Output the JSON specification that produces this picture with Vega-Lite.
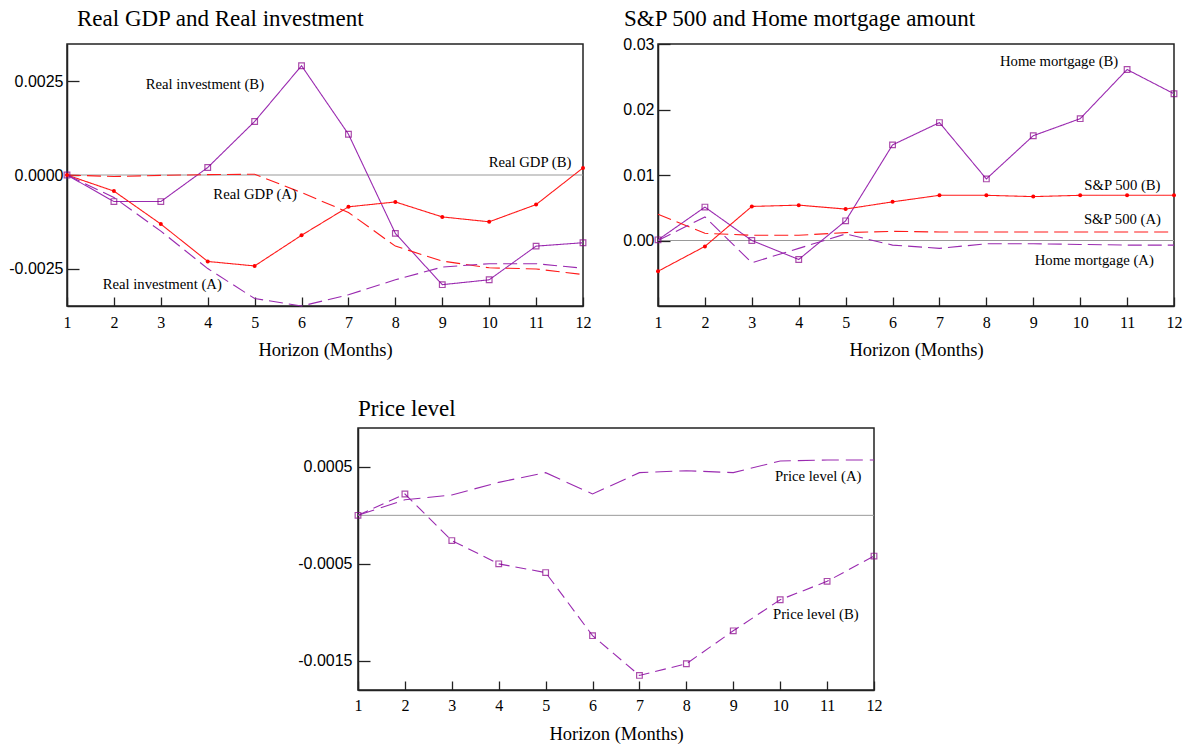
{
  "$schema": "https://vega.github.io/schema/vega-lite/v6.json",
  "padding": {"left": 7, "top": 7, "right": 4, "bottom": 2},
  "background": "white",
  "config": {
    "view": {"stroke": "#222", "strokeWidth": 1.5},
    "axis": {"grid": false, "domainColor": "#222", "domainWidth": 1.5, "tickColor": "#222", "tickWidth": 1.3, "labelColor": "#000", "titleColor": "#000"},
    "text": {"font": "Liberation Serif", "fontSize": 14.7, "color": "#000"},
    "line": {"strokeWidth": 1.1}
  },
  "resolve": {"scale": {"color": "independent", "strokeDash": "independent"}},
  "datasets": {
    "p1": [
      {"h":1,"s":"Inv B","v":0},{"h":2,"s":"Inv B","v":-0.00071},{"h":3,"s":"Inv B","v":-0.00071},{"h":4,"s":"Inv B","v":0.0002},{"h":5,"s":"Inv B","v":0.00143},{"h":6,"s":"Inv B","v":0.00292},{"h":7,"s":"Inv B","v":0.00109},{"h":8,"s":"Inv B","v":-0.00156},{"h":9,"s":"Inv B","v":-0.00293},{"h":10,"s":"Inv B","v":-0.0028},{"h":11,"s":"Inv B","v":-0.0019},{"h":12,"s":"Inv B","v":-0.00181},
      {"h":1,"s":"GDP B","v":0},{"h":2,"s":"GDP B","v":-0.00043},{"h":3,"s":"GDP B","v":-0.00131},{"h":4,"s":"GDP B","v":-0.00231},{"h":5,"s":"GDP B","v":-0.00243},{"h":6,"s":"GDP B","v":-0.00161},{"h":7,"s":"GDP B","v":-0.00085},{"h":8,"s":"GDP B","v":-0.00072},{"h":9,"s":"GDP B","v":-0.00112},{"h":10,"s":"GDP B","v":-0.00125},{"h":11,"s":"GDP B","v":-0.00079},{"h":12,"s":"GDP B","v":0.00019},
      {"h":1,"s":"GDP A","v":0},{"h":2,"s":"GDP A","v":-0.00004},{"h":3,"s":"GDP A","v":-0.00001},{"h":4,"s":"GDP A","v":0.00001},{"h":5,"s":"GDP A","v":0.00002},{"h":6,"s":"GDP A","v":-0.00047},{"h":7,"s":"GDP A","v":-0.001},{"h":8,"s":"GDP A","v":-0.0019},{"h":9,"s":"GDP A","v":-0.0023},{"h":10,"s":"GDP A","v":-0.00248},{"h":11,"s":"GDP A","v":-0.00251},{"h":12,"s":"GDP A","v":-0.00266},
      {"h":1,"s":"Inv A","v":0},{"h":2,"s":"Inv A","v":-0.0006},{"h":3,"s":"Inv A","v":-0.0015},{"h":4,"s":"Inv A","v":-0.0025},{"h":5,"s":"Inv A","v":-0.0033},{"h":6,"s":"Inv A","v":-0.0035},{"h":7,"s":"Inv A","v":-0.0032},{"h":8,"s":"Inv A","v":-0.0028},{"h":9,"s":"Inv A","v":-0.00246},{"h":10,"s":"Inv A","v":-0.00237},{"h":11,"s":"Inv A","v":-0.00237},{"h":12,"s":"Inv A","v":-0.00249}
    ],
    "p2": [
      {"h":1,"s":"HM B","v":0.0001},{"h":2,"s":"HM B","v":0.0051},{"h":3,"s":"HM B","v":0.0},{"h":4,"s":"HM B","v":-0.0029},{"h":5,"s":"HM B","v":0.003},{"h":6,"s":"HM B","v":0.0146},{"h":7,"s":"HM B","v":0.018},{"h":8,"s":"HM B","v":0.0094},{"h":9,"s":"HM B","v":0.016},{"h":10,"s":"HM B","v":0.0186},{"h":11,"s":"HM B","v":0.0261},{"h":12,"s":"HM B","v":0.0224},
      {"h":1,"s":"SP B","v":-0.0047},{"h":2,"s":"SP B","v":-0.0009},{"h":3,"s":"SP B","v":0.0052},{"h":4,"s":"SP B","v":0.0054},{"h":5,"s":"SP B","v":0.0048},{"h":6,"s":"SP B","v":0.0059},{"h":7,"s":"SP B","v":0.0069},{"h":8,"s":"SP B","v":0.0069},{"h":9,"s":"SP B","v":0.0067},{"h":10,"s":"SP B","v":0.0069},{"h":11,"s":"SP B","v":0.0069},{"h":12,"s":"SP B","v":0.0069},
      {"h":1,"s":"SP A","v":0.004},{"h":2,"s":"SP A","v":0.0011},{"h":3,"s":"SP A","v":0.0008},{"h":4,"s":"SP A","v":0.0008},{"h":5,"s":"SP A","v":0.0012},{"h":6,"s":"SP A","v":0.0014},{"h":7,"s":"SP A","v":0.0013},{"h":8,"s":"SP A","v":0.0013},{"h":9,"s":"SP A","v":0.0013},{"h":10,"s":"SP A","v":0.0013},{"h":11,"s":"SP A","v":0.0013},{"h":12,"s":"SP A","v":0.0013},
      {"h":1,"s":"HM A","v":0},{"h":2,"s":"HM A","v":0.0036},{"h":3,"s":"HM A","v":-0.0034},{"h":4,"s":"HM A","v":-0.0012},{"h":5,"s":"HM A","v":0.001},{"h":6,"s":"HM A","v":-0.0007},{"h":7,"s":"HM A","v":-0.0012},{"h":8,"s":"HM A","v":-0.0005},{"h":9,"s":"HM A","v":-0.0005},{"h":10,"s":"HM A","v":-0.0006},{"h":11,"s":"HM A","v":-0.0007},{"h":12,"s":"HM A","v":-0.0007}
    ],
    "p3": [
      {"h":1,"s":"PL B","v":0},{"h":2,"s":"PL B","v":0.00022},{"h":3,"s":"PL B","v":-0.00026},{"h":4,"s":"PL B","v":-0.0005},{"h":5,"s":"PL B","v":-0.00059},{"h":6,"s":"PL B","v":-0.00124},{"h":7,"s":"PL B","v":-0.00165},{"h":8,"s":"PL B","v":-0.00153},{"h":9,"s":"PL B","v":-0.00119},{"h":10,"s":"PL B","v":-0.00087},{"h":11,"s":"PL B","v":-0.00068},{"h":12,"s":"PL B","v":-0.00042},
      {"h":1,"s":"PL A","v":0},{"h":2,"s":"PL A","v":0.00016},{"h":3,"s":"PL A","v":0.00021},{"h":4,"s":"PL A","v":0.00034},{"h":5,"s":"PL A","v":0.00044},{"h":6,"s":"PL A","v":0.00022},{"h":7,"s":"PL A","v":0.00044},{"h":8,"s":"PL A","v":0.00046},{"h":9,"s":"PL A","v":0.00044},{"h":10,"s":"PL A","v":0.00056},{"h":11,"s":"PL A","v":0.00057},{"h":12,"s":"PL A","v":0.00057}
    ]
  },
  "vconcat": [
    {
      "resolve": {"scale": {"color": "independent", "strokeDash": "independent"}},
      "hconcat": [
        {
          "width": 516, "height": 262,
          "title": {"text": "Real GDP and Real investment", "dx": 10, "font": "Liberation Serif", "fontSize": 23, "fontWeight": "normal", "anchor": "start", "frame": "group", "color": "#000", "offset": 13},
          "encoding": {
            "x": {"field": "h", "type": "quantitative", "scale": {"domain": [1, 12], "nice": false, "zero": false}, "axis": {"values": [1,2,3,4,5,6,7,8,9,10,11,12], "format": "d", "title": "Horizon (Months)", "labelFont": "Liberation Serif", "labelFontSize": 16, "titleFont": "Liberation Serif", "titleFontSize": 18.5, "titleFontWeight": "normal", "tickSize": -9, "labelPadding": 17, "titlePadding": 10, "labelFlush": false}},
            "y": {"field": "v", "type": "quantitative", "scale": {"domain": [-0.0035, 0.0035], "nice": false}, "axis": {"values": [-0.0025, 0, 0.0025], "format": ".4f", "labelExpr": "replace(datum.label, '−', '-')", "title": null, "labelFont": "Liberation Sans", "labelFontSize": 16, "tickSize": -12, "labelPadding": 16}}
          },
          "layer": [
            {"data": {"values": [{"v": 0}]}, "mark": {"type": "rule", "color": "#999999", "strokeWidth": 1}, "encoding": {"x": null}},
            {"data": {"name": "p1"}, "mark": {"type": "line"},
             "encoding": {
               "color": {"field": "s", "type": "nominal", "scale": {"domain": ["Inv B", "GDP B", "GDP A", "Inv A"], "range": ["#9a2ab0", "#ff1a1a", "#ff1a1a", "#9a2ab0"]}, "legend": null},
               "strokeDash": {"field": "s", "type": "nominal", "scale": {"domain": ["Inv B", "GDP B", "GDP A", "Inv A"], "range": [[1, 0], [1, 0], [14, 6], [14, 6]]}, "legend": null}
             }},
            {"data": {"name": "p1"}, "transform": [{"filter": "datum.s === 'Inv B'"}], "mark": {"type": "point", "shape": "square", "filled": false, "size": 32, "stroke": "#880088", "strokeWidth": 1.2}},
            {"data": {"name": "p1"}, "transform": [{"filter": "datum.s === 'GDP B'"}], "mark": {"type": "point", "shape": "circle", "filled": true, "size": 16, "color": "#ff0000", "opacity": 1}},
            {"data": {"values": [
              {"t": "Real investment (B)", "h": 3.94, "v": 0.00241},
              {"t": "Real GDP (B)", "h": 10.87, "v": 0.00033},
              {"t": "Real GDP (A)", "h": 5.01, "v": -0.00053},
              {"t": "Real investment (A)", "h": 3.03, "v": -0.00293}
            ]}, "mark": {"type": "text", "align": "center", "baseline": "middle"}, "encoding": {"text": {"field": "t"}}}
          ]
        },
        {
          "width": 516, "height": 262,
          "title": {"text": "S&P 500 and Home mortgage amount", "dx": -34, "font": "Liberation Serif", "fontSize": 23, "fontWeight": "normal", "anchor": "start", "frame": "group", "color": "#000", "offset": 5},
          "encoding": {
            "x": {"field": "h", "type": "quantitative", "scale": {"domain": [1, 12], "nice": false, "zero": false}, "axis": {"values": [1,2,3,4,5,6,7,8,9,10,11,12], "format": "d", "title": "Horizon (Months)", "labelFont": "Liberation Serif", "labelFontSize": 16, "titleFont": "Liberation Serif", "titleFontSize": 18.5, "titleFontWeight": "normal", "tickSize": -9, "labelPadding": 17, "titlePadding": 10, "labelFlush": false}},
            "y": {"field": "v", "type": "quantitative", "scale": {"domain": [-0.01, 0.03], "nice": false}, "axis": {"values": [0, 0.01, 0.02, 0.03], "format": ".2f", "title": null, "labelFont": "Liberation Sans", "labelFontSize": 16, "tickSize": -12, "labelPadding": 16}}
          },
          "layer": [
            {"data": {"values": [{"v": 0}]}, "mark": {"type": "rule", "color": "#999999", "strokeWidth": 1}, "encoding": {"x": null}},
            {"data": {"name": "p2"}, "mark": {"type": "line"},
             "encoding": {
               "color": {"field": "s", "type": "nominal", "scale": {"domain": ["HM B", "SP B", "SP A", "HM A"], "range": ["#9a2ab0", "#ff1a1a", "#ff1a1a", "#9a2ab0"]}, "legend": null},
               "strokeDash": {"field": "s", "type": "nominal", "scale": {"domain": ["HM B", "SP B", "SP A", "HM A"], "range": [[1, 0], [1, 0], [14, 6], [14, 6]]}, "legend": null}
             }},
            {"data": {"name": "p2"}, "transform": [{"filter": "datum.s === 'HM B'"}], "mark": {"type": "point", "shape": "square", "filled": false, "size": 32, "stroke": "#880088", "strokeWidth": 1.2}},
            {"data": {"name": "p2"}, "transform": [{"filter": "datum.s === 'SP B'"}], "mark": {"type": "point", "shape": "circle", "filled": true, "size": 16, "color": "#ff0000", "opacity": 1}},
            {"data": {"values": [
              {"t": "Home mortgage (B)", "h": 9.55, "v": 0.0272},
              {"t": "S&P 500 (B)", "h": 10.9, "v": 0.0083},
              {"t": "S&P 500 (A)", "h": 10.9, "v": 0.0032},
              {"t": "Home mortgage (A)", "h": 10.3, "v": -0.0032}
            ]}, "mark": {"type": "text", "align": "center", "baseline": "middle"}, "encoding": {"text": {"field": "t"}}}
          ]
        }
      ],
      "spacing": 30
    },
    {
      "spacing": 0,
      "hconcat": [
        {"width": 229, "height": 10, "view": {"stroke": null}, "data": {"values": []}, "mark": {"type": "point"}},
        {
          "width": 516, "height": 262,
          "title": {"text": "Price level", "dx": 0, "font": "Liberation Serif", "fontSize": 23, "fontWeight": "normal", "anchor": "start", "frame": "group", "color": "#000", "offset": 7},
          "encoding": {
            "x": {"field": "h", "type": "quantitative", "scale": {"domain": [1, 12], "nice": false, "zero": false}, "axis": {"values": [1,2,3,4,5,6,7,8,9,10,11,12], "format": "d", "title": "Horizon (Months)", "labelFont": "Liberation Serif", "labelFontSize": 16, "titleFont": "Liberation Serif", "titleFontSize": 18.5, "titleFontWeight": "normal", "tickSize": -9, "labelPadding": 16, "titlePadding": 11, "labelFlush": false}},
            "y": {"field": "v", "type": "quantitative", "scale": {"domain": [-0.0018, 0.0009], "nice": false}, "axis": {"values": [-0.0015, -0.0005, 0.0005], "format": ".4f", "labelExpr": "replace(datum.label, '−', '-')", "title": null, "labelFont": "Liberation Sans", "labelFontSize": 16, "tickSize": -12, "labelPadding": 18}}
          },
          "layer": [
            {"data": {"values": [{"v": 0}]}, "mark": {"type": "rule", "color": "#999999", "strokeWidth": 1}, "encoding": {"x": null}},
            {"data": {"name": "p3"}, "mark": {"type": "line"},
             "encoding": {
               "color": {"field": "s", "type": "nominal", "scale": {"domain": ["PL B", "PL A"], "range": ["#9a2ab0", "#9a2ab0"]}, "legend": null},
               "strokeDash": {"field": "s", "type": "nominal", "scale": {"domain": ["PL B", "PL A"], "range": [[11, 6], [17, 7]]}, "legend": null}
             }},
            {"data": {"name": "p3"}, "transform": [{"filter": "datum.s === 'PL B'"}], "mark": {"type": "point", "shape": "square", "filled": false, "size": 32, "stroke": "#880088", "strokeWidth": 1.2}},
            {"data": {"values": [
              {"t": "Price level (A)", "h": 10.81, "v": 0.000392},
              {"t": "Price level (B)", "h": 10.76, "v": -0.00103}
            ]}, "mark": {"type": "text", "align": "center", "baseline": "middle"}, "encoding": {"text": {"field": "t"}}}
          ]
        }
      ]
    }
  ],
  "spacing": 37
}
